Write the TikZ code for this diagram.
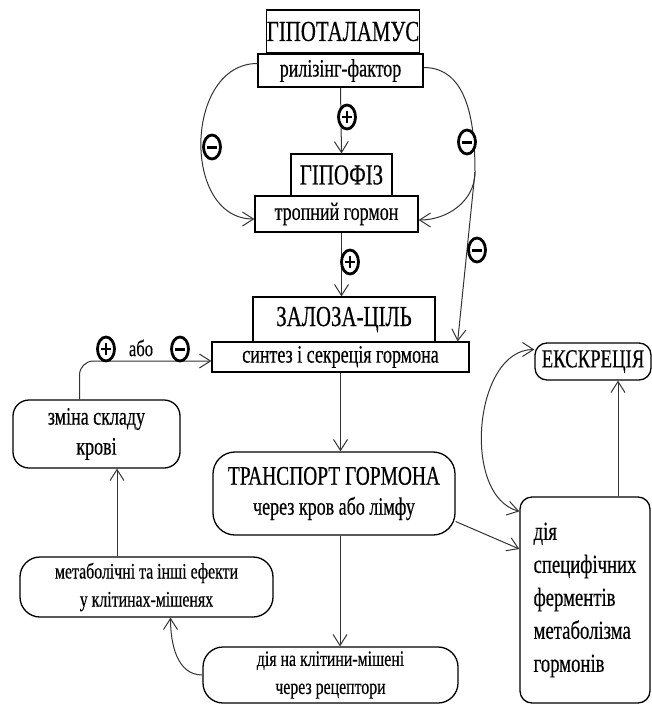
\documentclass[tikz,border=0pt]{standalone}
\usepackage{fontspec}
\setmainfont{Liberation Serif}[FakeStretch=0.72, FakeBold=0.4]
\usetikzlibrary{arrows.meta,shapes.geometric}
\newcommand{\fsz}[2]{\fontsize{#1}{#2}\selectfont}
\tikzset{
  fb/.style={draw, rectangle, line width=1.3pt, inner sep=0pt, align=center, font=\rmfamily\fsz{25}{30}},
  rb/.style={fb, rounded corners=16pt},
  link/.style={>={Straight Barb[length=11pt,width=14pt]}, ->, line width=1pt, draw=black!80},
  sgn/.style={draw, ellipse, fill=white, line width=2.8pt, minimum width=17pt, minimum height=24pt, inner sep=0pt},
  sgnm/.style={sgn, path picture={\draw[line width=3pt] ([xshift=-5pt]path picture bounding box.center) -- ++(10pt,0);}},
  sgnp/.style={sgn, path picture={\draw[line width=2.6pt] ([xshift=-5pt]path picture bounding box.center) -- ++(10pt,0)
                 ([yshift=-6pt]path picture bounding box.center) -- ++(0,12pt);}}
}

\begin{document}
\begin{tikzpicture}[x=1pt, y=-1pt]
\useasboundingbox (0,0) rectangle (651,704);
% control axis
\node[fb, minimum width=150pt, minimum height=43pt, font=\fsz{29}{32}] (hyp) at (343,31.5) {ГІПОТАЛАМУС};
\node[fb, minimum width=165pt, minimum height=33pt] (ril) at (340.5,70.5) {рилізінг-фактор};
\node[fb, minimum width=101pt, minimum height=42pt, font=\fsz{29}{32}] (gip) at (341.5,175) {ГІПОФІЗ};
\node[fb, minimum width=163pt, minimum height=36pt] (trop) at (336.5,214) {тропний гормон};
\node[fb, minimum width=182pt, minimum height=45pt, font=\fsz{29}{32}] (zal) at (344,319.5) {ЗАЛОЗА-ЦІЛЬ};
\node[fb, minimum width=257pt, minimum height=30pt] (synt) at (340.5,357) {синтез і секреція гормона};
% fate of the hormone
\node[rb, minimum width=167pt, minimum height=68pt] (zm) at (96.5,434) {зміна складу\\крові};
\node[rb, rounded corners=22pt, minimum width=242pt, minimum height=83pt] (tr) at (334,493.5) {{\fsz{27}{30}ТРАНСПОРТ ГОРМОНА}\\через кров або лімфу};
\node[rb, rounded corners=20pt, minimum width=253pt, minimum height=60pt, font=\fsz{22}{28}] (met) at (146.5,587) {метаболічні та інші ефекти\\у клітинах-мішенях};
\node[rb, rounded corners=20pt, minimum width=255pt, minimum height=56pt, font=\fsz{22}{28}] (dkm) at (330.5,675) {дія на клітини-мішені\\через рецептори};
\node[rb, rounded corners=12pt, minimum width=116pt, minimum height=37pt, font=\fsz{26}{30}] (ex) at (593,361.5) {ЕКСКРЕЦІЯ};
\node[rb, rounded corners=12pt, minimum width=130pt, minimum height=206pt, align=left, font=\fsz{26}{33}] (dsp) at (585,600) {дія\\специфічних\\ферментів\\метаболізма\\гормонів};

\coordinate (br) at (475,172);
\draw[link] (ril.south) -- (gip.north);
\draw[link] ([yshift=7pt]ril.west) to[out=180, in=180, looseness=1.2] ([yshift=-5pt]trop.west);
\draw[link] ([yshift=3pt]ril.east) to[out=0, in=90] (br) to[out=-90, in=0] ([yshift=-6pt]trop.east);
\draw[link] (br) -- ([xshift=-12pt]synt.north east);
\draw[link] ([xshift=5pt]trop.south) -- ([xshift=5pt]trop.south |- zal.north);
\draw[link, rounded corners=14pt] ([xshift=-17pt]zm.north) |- ([yshift=-4pt]synt.west);
\draw[link] (synt.south) -- (synt.south |- tr.north);
\draw[link] ([xshift=6pt]tr.south) -- ([xshift=6pt]tr.south |- dkm.north);
\draw[link] ([yshift=-28pt]tr.east) -- ([yshift=51pt]dsp.west);
\draw[link] (dkm.west) to[out=180, in=-90] ([xshift=24pt]met.south);
\draw[link] ([xshift=-29.5pt]met.north) -- ([xshift=-29.5pt]met.north |- zm.south);
\draw[link] ([xshift=33pt]dsp.north) -- ([xshift=33pt]dsp.north |- ex.south);
\draw[link, <->] ([yshift=12pt]ex.west) to[out=180, in=165, looseness=0.95] ([yshift=-15pt]dsp.north west);

% signs of regulation
\node[sgnp] (s1) at (347,117) {};
\node[sgnm] (s2) at (212,147) {};
\node[sgnm] (s3) at (467,142) {};
\node[sgnm] (s4) at (477,250) {};
\node[sgnp] (s5) at (350,262) {};
\node[sgnp] (s6) at (106,349) {};
\node[font=\fsz{23}{26}] (ili) at (141,348) {або};
\node[sgnm] (s7) at (180,349) {};
\end{tikzpicture}
\end{document}
